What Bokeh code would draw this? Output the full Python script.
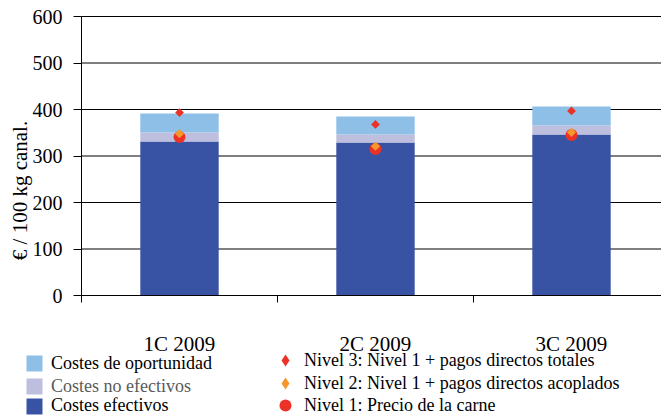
import numpy as np
from bokeh.plotting import figure
from bokeh.models import (Range1d, FixedTicker, LinearAxis, Legend,
                          LegendItem, Label, ColumnDataSource)
from bokeh.embed import file_html
from bokeh.resources import INLINE

# ---- data ----
categories = ["1C 2009", "2C 2009", "3C 2009"]
costes_efectivos = [331, 329, 346]
costes_no_efectivos = [19.5, 17, 19.5]
costes_oportunidad = [41, 39, 41]
nivel3 = [393.5, 368, 397]
nivel2 = [348, 321, 351]
nivel1 = [341, 315, 345]
y_ticks = [0, 100, 200, 300, 400, 500, 600]

bar_labels = ["Costes de oportunidad", "Costes no efectivos", "Costes efectivos"]
marker_labels = ["Nivel 3: Nivel 1 + pagos directos totales",
                 "Nivel 2: Nivel 1 + pagos directos acoplados",
                 "Nivel 1: Precio de la carne"]
y_title = "€ / 100 kg canal."

FONT = "Liberation Serif"
C_EF = "#3953A4"
C_NOEF = "#BEBFDF"
C_OP = "#8EBFE7"
C_RED = "#EC3226"
C_ORANGE = "#F5972A"

n = len(categories)
x = [i + 0.5 for i in range(n)]
src = ColumnDataSource(dict(x=x, ef=costes_efectivos, noef=costes_no_efectivos,
                            op=costes_oportunidad, n1=nivel1, n2=nivel2, n3=nivel3))

# ---- geometry (pixels) ----
W, H = 661, 415
AX_X, AX_Y, TOP_Y = 81, 295, 16      # y axis x, zero line y, 600 line y (figure px)
CAT_W = 196                           # px per category
PX_PER_UNIT = (AX_Y - TOP_Y) / 600.0
x_end = (W - AX_X) / CAT_W
x_start = -AX_X / CAT_W
y_end = 600 + TOP_Y / PX_PER_UNIT
y_start = -(H - AX_Y) / PX_PER_UNIT

p = figure(width=W, height=H, output_backend="svg", toolbar_location=None,
           x_range=Range1d(x_start, x_end), y_range=Range1d(y_start, y_end),
           min_border_left=0, min_border_right=0, min_border_top=0,
           min_border_bottom=0, x_axis_type=None, y_axis_type=None)
p.outline_line_color = None
p.background_fill_color = "white"
p.border_fill_color = "white"

# gridlines (from the tick values)
p.segment(x0=0, x1=x_end, y0=y_ticks, y1=y_ticks, line_color="black", line_width=1)

# axes
yticker = FixedTicker(ticks=y_ticks)
yaxis = LinearAxis(ticker=yticker, fixed_location=0, bounds=(0, 600))
yaxis.major_tick_out = 8
yaxis.major_tick_in = 0
yaxis.minor_tick_out = 0
yaxis.minor_tick_in = 0
yaxis.major_label_standoff = 11
yaxis.major_label_text_font = FONT
yaxis.major_label_text_font_size = "20px"
yaxis.major_label_text_color = "black"
yaxis.axis_line_color = "black"
yaxis.major_tick_line_color = "black"
p.add_layout(yaxis, "left")

xticker = FixedTicker(ticks=x, minor_ticks=list(range(n + 1)))
xaxis = LinearAxis(ticker=xticker, fixed_location=0, bounds=(0, x_end))
xaxis.major_tick_out = 0
xaxis.major_tick_in = 0
xaxis.minor_tick_out = 7
xaxis.minor_tick_in = 0
xaxis.minor_tick_line_color = "black"
xaxis.axis_line_color = "black"
xaxis.major_label_overrides = {xi: c for xi, c in zip(x, categories)}
xaxis.major_label_standoff = 29
xaxis.major_label_text_font = FONT
xaxis.major_label_text_font_size = "21px"
xaxis.major_label_text_color = "black"
p.add_layout(xaxis, "below")

# bars
bars = p.vbar_stack(["ef", "noef", "op"], x="x", width=0.4, source=src,
                    color=[C_EF, C_NOEF, C_OP], line_color=None)

# markers
p.scatter("x", "n1", source=src, marker="circle", size=12,
          fill_color=C_RED, line_color=None)
p.scatter("x", "n2", source=src, marker="square", angle=np.pi / 4, size=6.5,
          fill_color=C_ORANGE, line_color=None)
p.scatter("x", "n3", source=src, marker="square", angle=np.pi / 4, size=6.2,
          fill_color=C_RED, line_color=None)

# legend glyph renderers (hidden, only used by the legends)
lm3 = p.scatter("x", "n3", source=src, marker="diamond", fill_color=C_RED,
                line_color=None, visible=False)
lm2 = p.scatter("x", "n2", source=src, marker="diamond", fill_color=C_ORANGE,
                line_color=None, visible=False)
lm1 = p.scatter("x", "n1", source=src, marker="circle", fill_color=C_RED,
                line_color=None, visible=False)


def add_legend(label, renderer, vx, vy, gw, gh, lh, standoff, color):
    leg = Legend(items=[LegendItem(label=label, renderers=[renderer])],
                 location=(vx, vy), glyph_width=gw, glyph_height=gh,
                 label_standoff=standoff, label_text_font=FONT,
                 label_text_font_size="18px", label_text_color=color,
                 label_height=lh, padding=0, margin=0, spacing=0,
                 border_line_color=None, background_fill_alpha=0,
                 inactive_fill_alpha=0)
    p.add_layout(leg, "center")


add_legend(bar_labels[0], bars[2], 24, 40, 20, 20, 24, 7, "black")
add_legend(bar_labels[1], bars[1], 24, 17, 20, 20, 24, 7, "#5a5a5a")
add_legend(bar_labels[2], bars[0], 24, -1, 20, 20, 20, 7, "black")
add_legend(marker_labels[0], lm3, 270, 40, 30, 30, 30, 4, "black")
add_legend(marker_labels[1], lm2, 270, 17, 30, 30, 30, 4, "black")
add_legend(marker_labels[2], lm1, 270, -5, 30, 30, 30, 4, "black")

ylab = Label(x=19, y=225, x_units="screen", y_units="screen", text=y_title,
             angle=np.pi / 2, text_align="center", text_baseline="middle",
             text_font=FONT, text_font_size="21px", text_color="black")
p.add_layout(ylab)

open("out.html", "w").write(file_html(p, INLINE))
